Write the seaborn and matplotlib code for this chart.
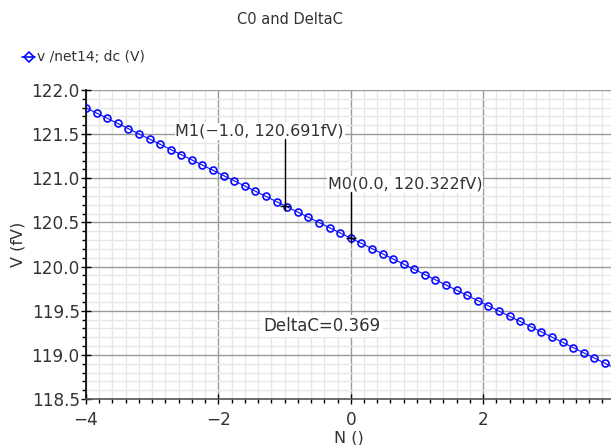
import numpy as np
import pandas as pd
import matplotlib
matplotlib.use("Agg")
import matplotlib.pyplot as plt
from matplotlib.ticker import MultipleLocator
import seaborn as sns

# Data
n_vals = [-4.00, -3.84, -3.68, -3.52, -3.36, -3.20, -3.04, -2.88, -2.72, -2.56,
          -2.40, -2.24, -2.08, -1.92, -1.76, -1.60, -1.44, -1.28, -1.12, -0.96,
          -0.80, -0.64, -0.48, -0.32, -0.16, 0.00, 0.16, 0.32, 0.48, 0.64,
          0.80, 0.96, 1.12, 1.28, 1.44, 1.60, 1.76, 1.92, 2.08, 2.24,
          2.40, 2.56, 2.72, 2.88, 3.04, 3.20, 3.36, 3.52, 3.68, 3.84, 4.00]
v_vals = [121.798, 121.739, 121.680, 121.621, 121.562, 121.503, 121.444, 121.385, 121.326, 121.267,
          121.208, 121.149, 121.090, 121.030, 120.971, 120.912, 120.853, 120.794, 120.735, 120.676,
          120.617, 120.558, 120.499, 120.440, 120.381, 120.322, 120.263, 120.204, 120.145, 120.086,
          120.027, 119.968, 119.909, 119.850, 119.791, 119.732, 119.673, 119.614, 119.555, 119.496,
          119.437, 119.378, 119.319, 119.260, 119.201, 119.142, 119.082, 119.023, 118.964, 118.905,
          118.846]
marker_x = [-1.0, 0.0]
marker_y = [120.691, 120.322]
marker_labels = ["M1(\u22121.0, 120.691fV)", "M0(0.0, 120.322fV)"]
delta_label = "DeltaC=0.369"
series_name = "v /net14; dc (V)"

df = pd.DataFrame({"N": n_vals, "V": v_vals})

sns.set_theme(style="white")
plt.rcParams["font.family"] = ["DejaVu Sans"]

BLUE = "#0a0aff"
TXT = "#333333"

fig = plt.figure(figsize=(6.11, 4.45), dpi=100)
ax = fig.add_axes([86/611, 1 - 399/445, 1 - 86/611 + 0.002, (399 - 90)/445])

sns.lineplot(data=df, x="N", y="V", ax=ax, color=BLUE, lw=0.8,
             marker="o", markersize=5, markerfacecolor="none",
             markeredgecolor=BLUE, markeredgewidth=1.2, zorder=3)

ax.set_xlim(-4, 3.95)
ax.set_ylim(118.5, 122.0)
ax.xaxis.set_minor_locator(MultipleLocator(0.2))
ax.yaxis.set_major_locator(MultipleLocator(0.5))
ax.yaxis.set_minor_locator(MultipleLocator(0.1))
ax.set_xticks([-4, -2, 0, 2])
ax.set_xticklabels(["\u22124", "\u22122", "0", "2"])
yt = [118.5, 119.0, 119.5, 120.0, 120.5, 121.0, 121.5, 122.0]
ax.set_yticks(yt)
ax.set_yticklabels([f"{t:.1f}" for t in yt])

ax.grid(which="major", color="#9a9a9a", lw=1.0, zorder=1)
ax.grid(which="minor", color="#e6e6e6", lw=1.0, zorder=0)
ax.set_axisbelow(True)

for s in ["top", "right"]:
    ax.spines[s].set_visible(False)
ax.spines["left"].set_color("black")
ax.spines["bottom"].set_color("#555555")
for s in ["left", "bottom"]:
    ax.spines[s].set_linewidth(1.2)

ax.tick_params(which="major", direction="inout", length=7, width=1, color="black",
               labelsize=12.2, labelcolor=TXT, left=True, bottom=True, pad=1)
ax.tick_params(axis="x", which="major", pad=5)
ax.tick_params(which="minor", direction="out", length=3, width=1, color="black",
               left=True, bottom=True)

ax.set_xlabel("N ()", fontsize=11.5, color=TXT, labelpad=1)
ax.set_ylabel("V (fV)", fontsize=11.5, color=TXT, labelpad=4)

# Marker annotations: label text with white box, vertical leader down to marker point
label_pos = [(-2.65, 121.53), (-0.35, 120.93)]
for (mx, my), (tx, ty), lab in zip(zip(marker_x, marker_y), label_pos, marker_labels):
    ax.text(tx, ty, lab, fontsize=11.5, color=TXT, ha="left", va="center",
            bbox=dict(boxstyle="square,pad=0.05", fc="white", ec="none"), zorder=4)
    ax.plot([mx, mx], [my, ty - 0.08], color="black", lw=1, zorder=5)
ax.plot(marker_x, marker_y, marker="+", ls="none", color="black", ms=7, mew=1, zorder=5)

ax.text(-1.32, 119.33, delta_label, fontsize=12, color=TXT, ha="left", va="center",
        bbox=dict(boxstyle="square,pad=0.12", fc="white", ec="none"), zorder=4)

# Title and legend
fig.text(290/611, 1 - 20/445, "C0 and DeltaC", ha="center", va="center",
         fontsize=10.5, color=TXT)
fig.lines.append(plt.Line2D([22/611, 35/611], [1 - 57/445, 1 - 57/445],
                            transform=fig.transFigure, color=BLUE, lw=1.2))
fig.lines.append(plt.Line2D([28.5/611], [1 - 57/445], transform=fig.transFigure,
                            color=BLUE, marker="D", ms=5.5, mfc="none", mew=1.2))
fig.text(37/611, 1 - 57/445, series_name, ha="left", va="center",
         fontsize=10, color=TXT)

fig.savefig("out.png", dpi=100)
